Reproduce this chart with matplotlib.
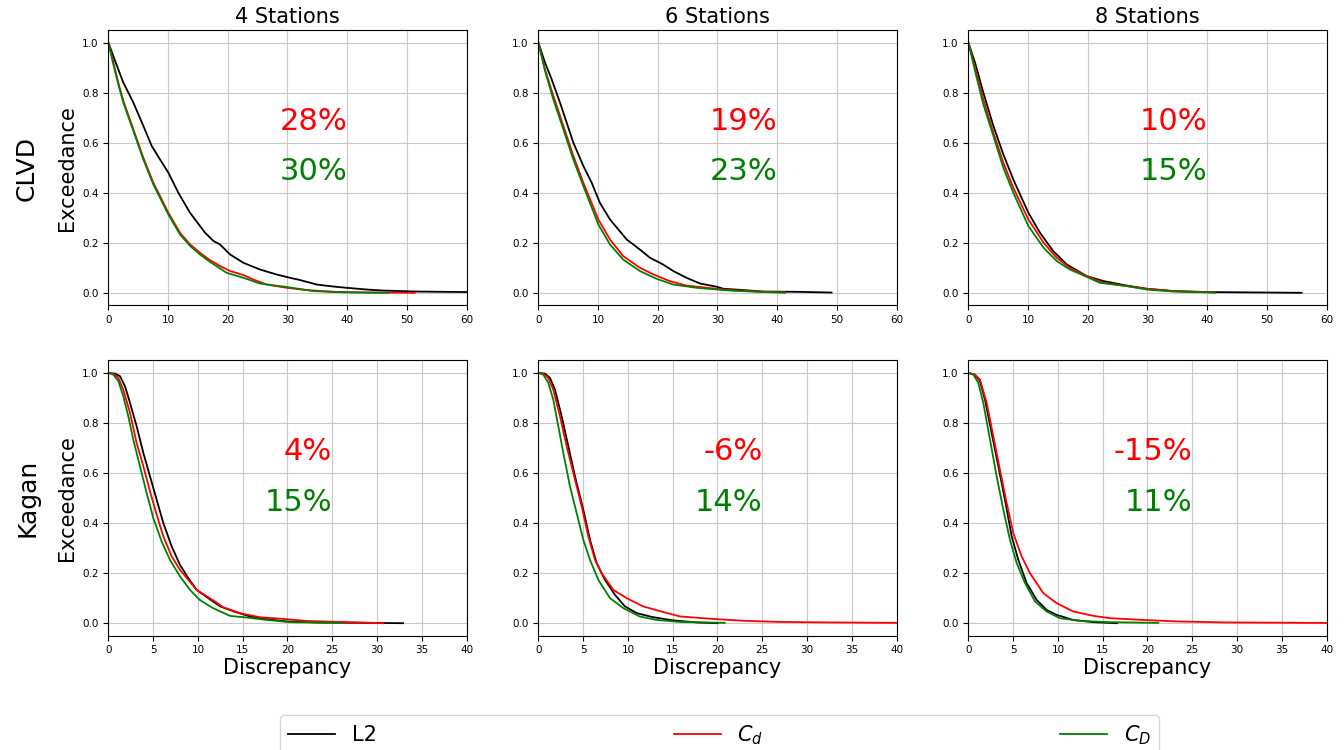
import matplotlib
matplotlib.use("Agg")
import matplotlib.pyplot as plt

# ---------------- data ----------------
stations = ["4 Stations", "6 Stations", "8 Stations"]
row_names = ["CLVD", "Kagan"]
methods = ["L2", "$C_d$", "$C_D$"]
colors = ["black", "red", "green"]

# improvement labels (red: C_d vs L2, green: C_D vs L2)
red_pct = [["28%", "19%", "10%"], ["4%", "-6%", "-15%"]]
green_pct = [["30%", "23%", "15%"], ["15%", "14%", "11%"]]

# exceedance curves: discrepancy (x) and exceedance (y)
clvd4_l2_x = [0, 1.12, 2.51, 4.19, 5.86, 7.26, 8.65, 10.05, 11.72, 13.67, 15.35, 16.2, 17.6, 18.7,
              20.4, 22.6, 25.4, 28.2, 30.4, 32.1, 34.9, 37.7, 39.9, 43.3, 46.0, 51.6, 60.0]
clvd4_l2_y = [1.0, 0.927, 0.84, 0.76, 0.667, 0.587, 0.533, 0.48, 0.40, 0.32, 0.267, 0.24, 0.207, 0.193,
              0.153, 0.12, 0.093, 0.073, 0.06, 0.051, 0.033, 0.025, 0.02, 0.013, 0.009, 0.005, 0.003]
clvd4_cd_x = [0, 0.84, 1.67, 2.51, 4.19, 5.86, 7.53, 8.65, 10.05, 12.0, 13.7, 15.35, 17.0, 18.7,
              20.4, 22.6, 24.3, 26.5, 29.9, 33.2, 37.7, 43.3, 51.3]
clvd4_cd_y = [1.0, 0.92, 0.84, 0.767, 0.653, 0.54, 0.44, 0.387, 0.32, 0.24, 0.193, 0.16, 0.131, 0.107,
              0.087, 0.071, 0.053, 0.033, 0.02, 0.011, 0.004, 0.0015, 0.0]
clvd4_cD_x = [0, 0.84, 1.67, 2.51, 4.19, 5.86, 7.53, 10.05, 12.0, 13.7, 15.35, 17.0, 19.8, 22.6,
              25.4, 29.9, 34.3, 39.9, 46.9]
clvd4_cD_y = [1.0, 0.913, 0.833, 0.76, 0.647, 0.533, 0.433, 0.313, 0.233, 0.187, 0.153, 0.124, 0.08, 0.06,
              0.037, 0.023, 0.007, 0.0015, 0.0]

clvd6_l2_x = [0, 1.12, 2.23, 3.63, 5.86, 7.53, 8.93, 10.3, 12.0, 14.8, 17.0, 18.7, 20.9, 22.6,
              24.8, 27.1, 29.9, 31.0, 34.3, 37.7, 43.3, 49.1]
clvd6_l2_y = [1.0, 0.92, 0.853, 0.76, 0.60, 0.507, 0.44, 0.36, 0.293, 0.213, 0.173, 0.14, 0.113, 0.087,
              0.06, 0.037, 0.024, 0.016, 0.011, 0.005, 0.004, 0.001]
clvd6_cd_x = [0, 1.12, 2.51, 4.19, 5.86, 7.53, 10.05, 12.0, 14.2, 17.0, 19.3, 22.0, 24.8, 28.2,
              32.1, 37.7, 41.3]
clvd6_cd_y = [1.0, 0.893, 0.787, 0.667, 0.547, 0.44, 0.293, 0.213, 0.147, 0.10, 0.073, 0.047, 0.029, 0.02,
              0.011, 0.004, 0.001]
clvd6_cD_x = [0, 1.12, 2.51, 4.19, 5.86, 7.53, 10.05, 12.0, 14.2, 17.0, 19.8, 22.6, 26.5, 32.1,
              37.7, 41.3]
clvd6_cD_y = [1.0, 0.887, 0.773, 0.653, 0.533, 0.427, 0.273, 0.193, 0.133, 0.087, 0.056, 0.033, 0.02, 0.009,
              0.003, 0.001]

clvd8_l2_x = [0, 1.12, 2.51, 4.19, 5.86, 7.53, 10.05, 12.0, 14.2, 16.5, 19.8, 22.6, 26.5, 29.9,
              34.3, 39.9, 48.8, 55.8]
clvd8_l2_y = [1.0, 0.92, 0.80, 0.667, 0.553, 0.453, 0.32, 0.24, 0.167, 0.113, 0.067, 0.047, 0.029, 0.016,
              0.007, 0.003, 0.0013, 0.0]
clvd8_cd_x = [0, 1.12, 2.51, 4.19, 5.86, 7.53, 10.05, 12.6, 14.8, 17.0, 19.8, 22.6, 26.5, 29.9,
              34.3, 41.3]
clvd8_cd_y = [1.0, 0.90, 0.773, 0.64, 0.52, 0.42, 0.293, 0.20, 0.14, 0.10, 0.067, 0.04, 0.027, 0.016,
              0.007, 0.001]
clvd8_cD_x = [0, 1.12, 2.51, 4.19, 5.86, 7.53, 10.05, 12.6, 14.8, 17.0, 19.8, 22.0, 26.5, 29.9,
              34.3, 41.3]
clvd8_cD_y = [1.0, 0.887, 0.753, 0.627, 0.50, 0.40, 0.267, 0.18, 0.127, 0.093, 0.064, 0.04, 0.027, 0.013,
              0.005, 0.001]

kagan4_l2_x = [0, 0.74, 1.3, 1.86, 2.42, 3.16, 3.91, 4.65, 5.4, 6.14, 7.07, 8.0, 8.93, 9.86,
               11.0, 12.5, 14.0, 15.8, 17.7, 19.9, 23.3, 32.9]
kagan4_l2_y = [1.0, 0.997, 0.987, 0.947, 0.88, 0.787, 0.68, 0.587, 0.493, 0.40, 0.307, 0.233, 0.18, 0.133,
               0.104, 0.067, 0.047, 0.027, 0.016, 0.007, 0.003, 0.0]
kagan4_cd_x = [0, 0.56, 1.12, 1.67, 2.42, 3.16, 3.91, 4.65, 5.4, 6.14, 7.07, 8.0, 8.93, 9.86,
               11.0, 11.9, 12.8, 14.7, 16.9, 19.9, 22.1, 25.9, 30.7]
kagan4_cd_y = [1.0, 0.997, 0.98, 0.933, 0.84, 0.72, 0.627, 0.527, 0.433, 0.347, 0.267, 0.213, 0.173, 0.133,
               0.107, 0.087, 0.064, 0.04, 0.024, 0.016, 0.009, 0.005, 0.0]
kagan4_cD_x = [0, 0.56, 1.12, 1.67, 2.23, 2.79, 3.53, 4.28, 5.02, 5.95, 6.88, 8.0, 9.12, 10.2,
               11.7, 13.6, 15.1, 17.7, 20.3, 25.9]
kagan4_cD_y = [1.0, 0.993, 0.967, 0.907, 0.827, 0.733, 0.627, 0.52, 0.42, 0.327, 0.253, 0.187, 0.133, 0.093,
               0.06, 0.029, 0.024, 0.013, 0.004, 0.0013]

kagan6_l2_x = [0, 0.74, 1.3, 1.86, 2.6, 3.35, 4.09, 5.02, 5.77, 6.51, 7.44, 8.56, 9.67, 11.0,
               12.8, 15.1, 17.7, 20.0]
kagan6_l2_y = [1.0, 0.997, 0.98, 0.933, 0.827, 0.707, 0.587, 0.453, 0.333, 0.24, 0.173, 0.113, 0.067, 0.04,
               0.024, 0.011, 0.003, 0.0]
kagan6_cd_x = [0, 0.56, 1.12, 1.67, 2.42, 3.16, 3.91, 4.84, 5.58, 6.33, 7.07, 8.37, 9.86, 11.7,
               14.0, 15.8, 19.5, 23.3, 27.0, 32.6, 40.0]
kagan6_cd_y = [1.0, 0.997, 0.98, 0.933, 0.827, 0.707, 0.60, 0.467, 0.347, 0.253, 0.20, 0.133, 0.10, 0.067,
               0.044, 0.027, 0.017, 0.009, 0.005, 0.003, 0.0013]
kagan6_cD_x = [0, 0.56, 1.12, 1.67, 2.23, 2.79, 3.53, 4.28, 5.02, 5.77, 6.7, 8.0, 9.49, 11.3,
               13.2, 15.8, 20.8]
kagan6_cD_y = [1.0, 0.993, 0.96, 0.893, 0.787, 0.68, 0.547, 0.44, 0.333, 0.253, 0.173, 0.10, 0.06, 0.027,
               0.013, 0.005, 0.0013]

kagan8_l2_x = [0, 0.74, 1.3, 1.86, 2.6, 3.35, 4.09, 4.84, 5.58, 6.51, 7.63, 8.74, 9.86, 11.7,
               14.0, 16.6]
kagan8_l2_y = [1.0, 0.993, 0.967, 0.893, 0.76, 0.627, 0.493, 0.347, 0.253, 0.16, 0.093, 0.053, 0.033, 0.013,
               0.004, 0.0]
kagan8_cd_x = [0, 0.74, 1.3, 2.05, 2.79, 3.53, 4.28, 5.02, 5.95, 6.88, 8.37, 9.86, 11.7, 14.0,
               15.8, 19.5, 23.3, 28.8, 40.0]
kagan8_cd_y = [1.0, 0.993, 0.973, 0.88, 0.747, 0.613, 0.48, 0.36, 0.267, 0.20, 0.12, 0.08, 0.047, 0.029,
               0.02, 0.013, 0.007, 0.003, 0.001]
kagan8_cD_x = [0, 0.56, 1.12, 1.67, 2.42, 3.16, 3.91, 4.65, 5.4, 6.33, 7.44, 8.74, 10.2, 12.5,
               15.8, 21.2]
kagan8_cD_y = [1.0, 0.993, 0.96, 0.88, 0.733, 0.587, 0.453, 0.333, 0.24, 0.16, 0.087, 0.047, 0.02, 0.009,
               0.004, 0.0013]

curves = [
    [[(clvd4_l2_x, clvd4_l2_y), (clvd4_cd_x, clvd4_cd_y), (clvd4_cD_x, clvd4_cD_y)],
     [(clvd6_l2_x, clvd6_l2_y), (clvd6_cd_x, clvd6_cd_y), (clvd6_cD_x, clvd6_cD_y)],
     [(clvd8_l2_x, clvd8_l2_y), (clvd8_cd_x, clvd8_cd_y), (clvd8_cD_x, clvd8_cD_y)]],
    [[(kagan4_l2_x, kagan4_l2_y), (kagan4_cd_x, kagan4_cd_y), (kagan4_cD_x, kagan4_cD_y)],
     [(kagan6_l2_x, kagan6_l2_y), (kagan6_cd_x, kagan6_cd_y), (kagan6_cD_x, kagan6_cD_y)],
     [(kagan8_l2_x, kagan8_l2_y), (kagan8_cd_x, kagan8_cd_y), (kagan8_cD_x, kagan8_cD_y)]],
]

row_xmax = [60, 40]
row_xstep = [10, 5]
label_x = [40, 25]

# ---------------- figure ----------------
fig, axes = plt.subplots(2, 3, figsize=(13.44, 7.5), dpi=100)
fig.subplots_adjust(left=0.0806, right=0.9871, bottom=0.1524, top=0.96,
                    wspace=0.2, hspace=0.2)

handles = []
for r in range(2):
    for c in range(3):
        ax = axes[r, c]
        for m in range(3):
            xs, ys = curves[r][c][m]
            ln, = ax.plot(xs, ys, color=colors[m], lw=1.3, label=methods[m])
            if r == 0 and c == 0:
                handles.append(ln)
        ax.set_xlim(0, row_xmax[r])
        ax.set_xticks(range(0, row_xmax[r] + 1, row_xstep[r]))
        ax.set_ylim(-0.05, 1.05)
        ax.set_yticks([0.0, 0.2, 0.4, 0.6, 0.8, 1.0])
        ax.grid(True, color="#c8c8c8", lw=0.8)
        ax.set_axisbelow(True)
        ax.tick_params(labelsize=7.5)
        ax.text(label_x[r], 0.65, red_pct[r][c], color="red", fontsize=22, ha="right")
        ax.text(label_x[r], 0.45, green_pct[r][c], color="green", fontsize=22, ha="right")
        if r == 0:
            ax.set_title(stations[c], fontsize=15, pad=5)
        else:
            ax.set_xlabel("Discrepancy", fontsize=15, labelpad=2)
        if c == 0:
            ax.set_ylabel("Exceedance", fontsize=15, labelpad=4)

fig.text(27 / 1344, 1 - 168 / 750, row_names[0], rotation=90, fontsize=18,
         ha="center", va="center")
fig.text(27 / 1344, 1 - 498 / 750, row_names[1], rotation=90, fontsize=18,
         ha="center", va="center")

fig.legend(handles=handles, labels=methods, loc="upper left",
           bbox_to_anchor=(280 / 1344, 1 - 715 / 750, 879 / 1344, 0),
           mode="expand", ncol=3, fontsize=15, handlelength=2.25,
           borderaxespad=0.0)

fig.savefig("out.png", dpi=100)
